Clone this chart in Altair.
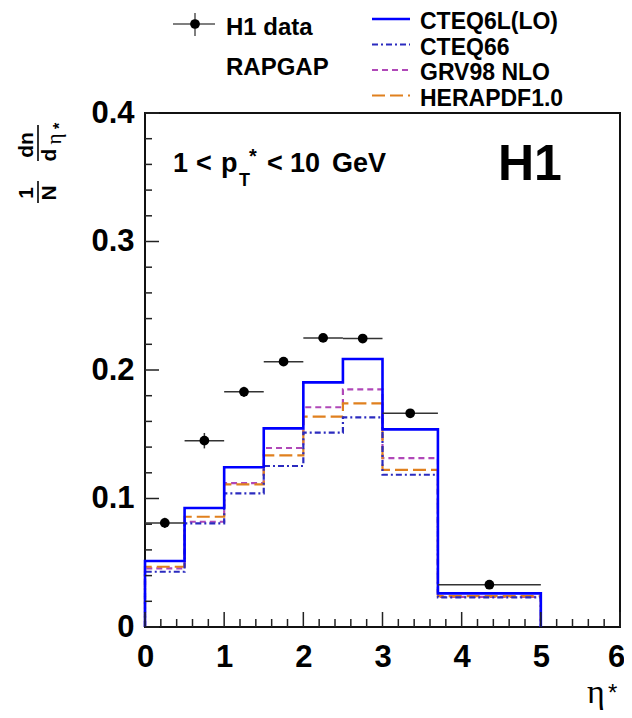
import altair as alt
import pandas as pd

# ---------------- data ----------------
EDGES = [0.0, 0.5, 1.0, 1.5, 2.0, 2.5, 3.0, 3.7, 5.0]
DATA_X = [0.25, 0.75, 1.25, 1.75, 2.25, 2.75, 3.35, 4.35]
DATA_Y = [0.081, 0.145, 0.183, 0.2065, 0.225, 0.2245, 0.1663, 0.0329]
DATA_ERR = [0.004, 0.006, 0.004, 0.003, 0.003, 0.003, 0.003, 0.002]
CTEQ6L = [0.0514, 0.0926, 0.1243, 0.1546, 0.1904, 0.2086, 0.1538, 0.0262]
CTEQ66 = [0.0430, 0.0807, 0.1040, 0.1253, 0.1512, 0.1632, 0.1185, 0.0231]
GRV98 = [0.0457, 0.0819, 0.1120, 0.1393, 0.1710, 0.1850, 0.1314, 0.0235]
HERAPDF = [0.0469, 0.0858, 0.1110, 0.1336, 0.1637, 0.1740, 0.1223, 0.0240]

X_MAJOR = [0, 1, 2, 3, 4, 5, 6]
X_MINOR = [i / 5 for i in range(31) if i % 5 != 0]
Y_MAJOR = [0.0, 0.1, 0.2, 0.3, 0.4]
Y_MINOR = [i / 50 for i in range(21) if i % 5 != 0]

SERIES = [
    ("GRV98 NLO", GRV98, "#b048b8", [6, 4], 2.2),
    ("HERAPDF1.0", HERAPDF, "#e0801e", [13, 5], 2.2),
    ("CTEQ66", CTEQ66, "#2b2bbf", [6, 3, 2, 3], 2.2),
    ("CTEQ6L(LO)", CTEQ6L, "#0000ff", None, 2.6),
]
LEGEND_ORDER = ["CTEQ6L(LO)", "CTEQ66", "GRV98 NLO", "HERAPDF1.0"]

# ---------------- layout ----------------
W, H = 475, 514
FONT = "Liberation Sans"
TICK = "#222222"
XS = alt.Scale(domain=[0, 6], nice=False, zero=False)
YS = alt.Scale(domain=[0, 0.4], nice=False, zero=False)

axis_common = dict(title=None, domain=False, ticks=False, tickSize=0, grid=False,
                   labelFont=FONT, labelFontWeight="bold", labelFontSize=31,
                   labelColor="black", labelFlush=False, labelOverlap=False)
X_AX = alt.Axis(values=X_MAJOR, format="d", labelPadding=15,
                labelOffset={"condition": {"test": "datum.value == 6", "value": -4}, "value": 0},
                **axis_common)
Y_AX = alt.Axis(values=Y_MAJOR, labelPadding=11,
                labelExpr="datum.value == 0 ? '0' : format(datum.value, '.1f')",
                **axis_common)


def step_df(vals):
    xs, ys = [EDGES[0]], [0.0]
    for i, v in enumerate(vals):
        xs += [EDGES[i], EDGES[i + 1]]
        ys += [v, v]
    xs.append(EDGES[-1])
    ys.append(0.0)
    return pd.DataFrame({"x": xs, "y": ys, "o": list(range(len(xs)))})


def txt(s, x, y, size, weight="bold", font=FONT, angle=0, align="left",
        baseline="alphabetic", color="black"):
    return alt.Chart(pd.DataFrame({"a": [0]})).mark_text(
        text=s, font=font, fontSize=size, fontWeight=weight, angle=angle,
        align=align, baseline=baseline, color=color
    ).encode(x=alt.value(x), y=alt.value(y))


layers = []

# histograms
hist = {}
for name, vals, color, dash, width in SERIES:
    kw = dict(color=color, strokeWidth=width, clip=False)
    if dash:
        kw["strokeDash"] = dash
    layers.append(
        alt.Chart(step_df(vals)).mark_line(**kw).encode(
            x=alt.X("x:Q", scale=XS, axis=X_AX),
            y=alt.Y("y:Q", scale=YS, axis=Y_AX),
            order="o:Q",
        )
    )
    hist[name] = (color, dash, width)

# data points
lo = [EDGES[i] for i in range(8)]
hi = [EDGES[i + 1] for i in range(8)]
pts = pd.DataFrame({
    "x": DATA_X, "y": DATA_Y, "xlo": lo, "xhi": hi,
    "ylo": [y - e for y, e in zip(DATA_Y, DATA_ERR)],
    "yhi": [y + e for y, e in zip(DATA_Y, DATA_ERR)],
})
layers.append(alt.Chart(pts).mark_rule(color="#333333", strokeWidth=1.5).encode(
    x=alt.X("xlo:Q", scale=XS, axis=X_AX), x2="xhi:Q",
    y=alt.Y("y:Q", scale=YS, axis=Y_AX)))
layers.append(alt.Chart(pts).mark_rule(color="#333333", strokeWidth=1.5).encode(
    x=alt.X("x:Q", scale=XS, axis=X_AX),
    y=alt.Y("ylo:Q", scale=YS, axis=Y_AX), y2="yhi:Q"))
layers.append(alt.Chart(pts).mark_circle(color="black", size=95, opacity=1).encode(
    x=alt.X("x:Q", scale=XS, axis=X_AX),
    y=alt.Y("y:Q", scale=YS, axis=Y_AX),
))

# inward ticks
for vals, ln in ((X_MAJOR, 15), (X_MINOR, 8)):
    layers.append(alt.Chart(pd.DataFrame({"t": vals})).mark_rule(color=TICK, strokeWidth=1.5).encode(
        x=alt.X("t:Q", scale=XS, axis=X_AX), y=alt.value(H), y2=alt.value(H - ln)))
for vals, ln in ((Y_MAJOR, 14), (Y_MINOR, 7)):
    layers.append(alt.Chart(pd.DataFrame({"t": vals})).mark_rule(color=TICK, strokeWidth=1.5).encode(
        y=alt.Y("t:Q", scale=YS, axis=Y_AX), x=alt.value(0), x2=alt.value(ln)))

# annotations inside plot
layers += [
    txt("1", 28, 59, 27),
    txt("<", 51, 59, 27),
    txt("p", 76, 59, 27),
    txt("T", 94, 73, 18),
    txt("*", 104, 50, 20),
    txt("<", 122, 59, 27),
    txt("10", 145, 59, 27),
    txt("GeV", 187, 59, 27),
    txt("H1", 353, 67, 50),
]

# axis titles
layers += [
    txt("\u03b7", 442, 590, 34, weight="normal", font="Liberation Serif"),
    txt("*", 463, 588, 24, weight="normal"),
    # y title: 1/N dn/d eta*
    txt("1", -112, 80, 21, angle=270, align="center"),
    txt("N", -89, 80, 21, angle=270, align="center"),
    txt("dn", -112, 32, 21, angle=270, align="center"),
    txt("d", -89, 42, 21, angle=270, align="center"),
    txt("\u03b7", -84, 26, 21, weight="normal", font="Liberation Serif", angle=270, align="center"),
    txt("*", -80, 13, 16, angle=270, align="center"),
]
bar = lambda x, y1, y2: alt.Chart(pd.DataFrame({"a": [0]})).mark_rule(color="black", strokeWidth=1.6).encode(
    x=alt.value(x), y=alt.value(y1), y2=alt.value(y2))
layers += [bar(-107, 68, 90), bar(-107, 12, 48)]

# legend
layers.append(alt.Chart(pd.DataFrame({"a": [0]})).mark_rule(color="#555555", strokeWidth=1.5).encode(
    x=alt.value(28), x2=alt.value(70), y=alt.value(-89)))
layers.append(alt.Chart(pd.DataFrame({"a": [0]})).mark_rule(color="#555555", strokeWidth=1.5).encode(
    x=alt.value(50), y=alt.value(-100), y2=alt.value(-77)))
layers.append(alt.Chart(pd.DataFrame({"a": [0]})).mark_circle(color="black", size=95, opacity=1).encode(
    x=alt.value(50), y=alt.value(-89)))
layers += [txt("H1 data", 81, -78, 24), txt("RAPGAP", 81, -38, 24)]

ty = [-84, -58.5, -33, -7.5]
ly = [t - 10 for t in ty]
for i, name in enumerate(LEGEND_ORDER):
    color, dash, width = hist[name]
    kw = dict(color=color, strokeWidth=width)
    if dash:
        kw["strokeDash"] = dash
    layers.append(alt.Chart(pd.DataFrame({"a": [0]})).mark_rule(**kw).encode(
        x=alt.value(227), x2=alt.value(265), y=alt.value(ly[i])))
    layers.append(txt(name, 275, ty[i], 23))

chart = alt.layer(*layers).properties(
    width=W, height=H,
    padding={"left": 137, "top": 105, "right": 4, "bottom": 83},
    autosize=alt.AutoSizeParams(type="none"),
    background="white",
).configure_view(stroke="#111111", strokeWidth=2)

chart.save("out.html", embed_options={"renderer": "svg", "actions": False})
